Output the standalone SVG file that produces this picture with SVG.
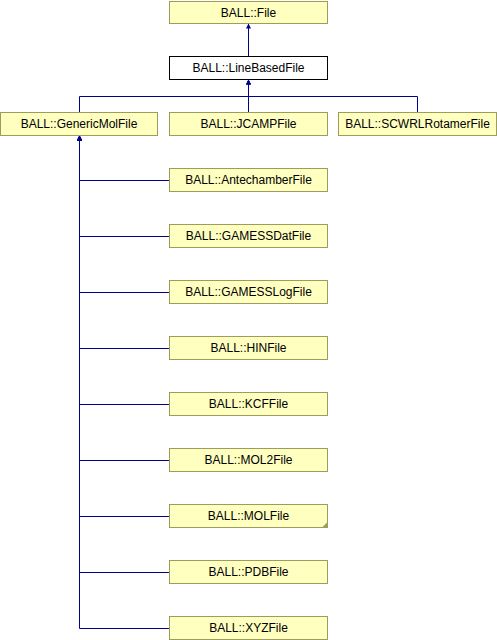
<svg xmlns="http://www.w3.org/2000/svg" width="497" height="640" viewBox="0 0 497 640">
<style>
.n rect{fill:#ffffc0;stroke:#9c9c5c;stroke-width:1}
.n.w rect{fill:#ffffff;stroke:#000000}
.n text{font-family:"Liberation Sans",Arial,sans-serif;font-size:12px;fill:#000000;text-anchor:middle}
.e path{fill:none;stroke:#000090;stroke-width:1}
.fold{fill:#9c9c5c}
</style>
<defs>
<marker id="ah" viewBox="0 0 10 10" refX="10" refY="5" markerWidth="6" markerHeight="5" markerUnits="userSpaceOnUse" orient="auto">
<path d="M0,0 L10,5 L0,10 z" fill="#000090"/>
</marker>
</defs>
<rect width="497" height="640" fill="#ffffff"/>
<g class="e" id="connectors">
<path d="M248.5,56 V23.5" marker-end="url(#ah)"/>
<path d="M79.5,112 V96.5 H248.5 V79.5" marker-end="url(#ah)"/>
<path d="M248.5,112 V79.5" marker-end="url(#ah)"/>
<path d="M417.5,112 V96.5 H248.5 V79.5" marker-end="url(#ah)"/>
<path d="M169,180.5 H79.5 V135.5" marker-end="url(#ah)"/>
<path d="M169,236.5 H79.5 V135.5" marker-end="url(#ah)"/>
<path d="M169,292.5 H79.5 V135.5" marker-end="url(#ah)"/>
<path d="M169,348.5 H79.5 V135.5" marker-end="url(#ah)"/>
<path d="M169,404.5 H79.5 V135.5" marker-end="url(#ah)"/>
<path d="M169,460.5 H79.5 V135.5" marker-end="url(#ah)"/>
<path d="M169,516.5 H79.5 V135.5" marker-end="url(#ah)"/>
<path d="M169,572.5 H79.5 V135.5" marker-end="url(#ah)"/>
<path d="M169,628.5 H79.5 V135.5" marker-end="url(#ah)"/>
</g>
<g class="n" id="File"><rect x="169.5" y="1.5" width="158" height="22"/><text x="248.5" y="16.5">BALL::File</text></g>
<g class="n w" id="LineBasedFile"><rect x="169.5" y="56.5" width="158" height="23"/><text x="248.5" y="72">BALL::LineBasedFile</text></g>
<g class="n" id="GenericMolFile"><rect x="0.5" y="112.5" width="157" height="23"/><text x="79" y="128">BALL::GenericMolFile</text></g>
<g class="n" id="JCAMPFile"><rect x="169.5" y="112.5" width="158" height="23"/><text x="248.5" y="128">BALL::JCAMPFile</text></g>
<g class="n" id="SCWRLRotamerFile"><rect x="338.5" y="112.5" width="158" height="23"/><text x="417.5" y="128">BALL::SCWRLRotamerFile</text></g>
<g class="n" id="AntechamberFile"><rect x="169.5" y="168.5" width="158" height="23"/><text x="248.5" y="184">BALL::AntechamberFile</text></g>
<g class="n" id="GAMESSDatFile"><rect x="169.5" y="224.5" width="158" height="23"/><text x="248.5" y="240">BALL::GAMESSDatFile</text></g>
<g class="n" id="GAMESSLogFile"><rect x="169.5" y="280.5" width="158" height="23"/><text x="248.5" y="296">BALL::GAMESSLogFile</text></g>
<g class="n" id="HINFile"><rect x="169.5" y="336.5" width="158" height="23"/><text x="248.5" y="352">BALL::HINFile</text></g>
<g class="n" id="KCFFile"><rect x="169.5" y="392.5" width="158" height="23"/><text x="248.5" y="408">BALL::KCFFile</text></g>
<g class="n" id="MOL2File"><rect x="169.5" y="448.5" width="158" height="23"/><text x="248.5" y="464">BALL::MOL2File</text></g>
<g class="n" id="MOLFile"><rect x="169.5" y="504.5" width="158" height="23"/><polygon class="fold" points="327.5,522 327.5,528 321.5,528"/><text x="248.5" y="520">BALL::MOLFile</text></g>
<g class="n" id="PDBFile"><rect x="169.5" y="560.5" width="158" height="23"/><text x="248.5" y="576">BALL::PDBFile</text></g>
<g class="n" id="XYZFile"><rect x="169.5" y="616.5" width="158" height="23"/><text x="248.5" y="632">BALL::XYZFile</text></g>
</svg>
